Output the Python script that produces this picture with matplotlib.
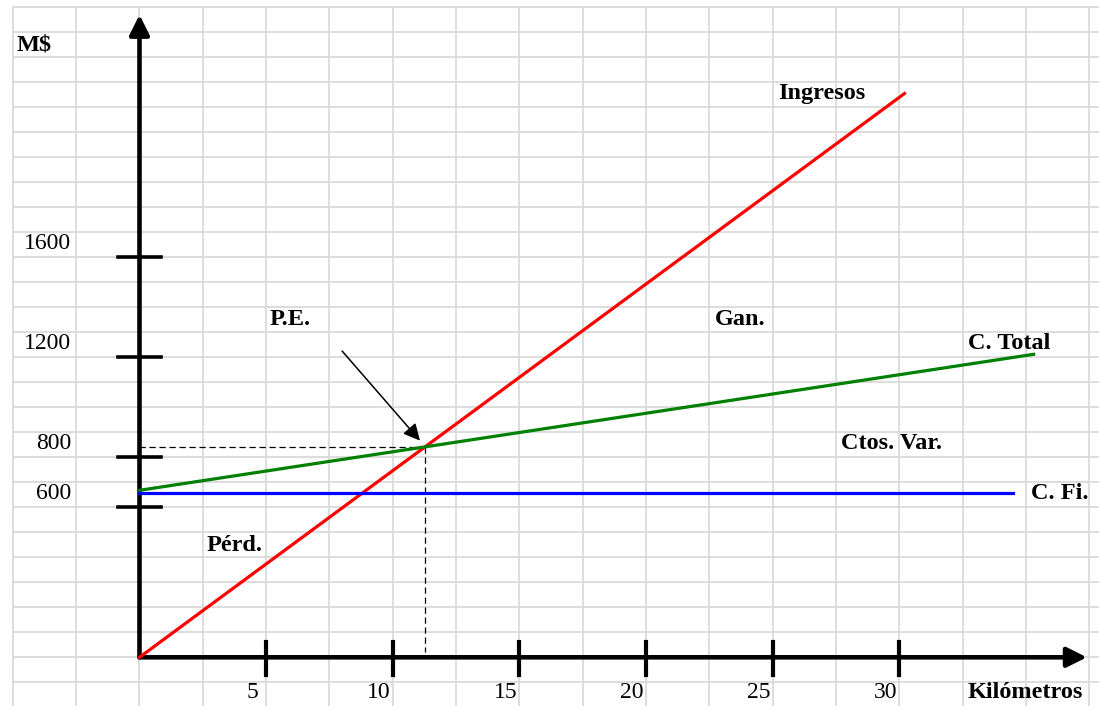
import numpy as np
import matplotlib
matplotlib.use("Agg")
from matplotlib import pyplot as plt

plt.rcParams['font.family'] = ['Liberation Serif', 'DejaVu Serif']

# data (km, M$)
ingresos_km = [0, 30.2]
ingresos_val = [0, 2255]
total_km = [0, 35.3]
total_val = [668, 1212]
fijo_km = [0, 34.5]
fijo_val = [656, 656]

y_ticks = [1600, 1200, 800, 600]
y_ticklabels = ['1600', '1200', '800', '600']
x_ticks = [5, 10, 15, 20, 25, 30]
x_ticklabels = ['5', '10', '15', '20', '25', '30']

# break-even point from the two lines
m_i = (ingresos_val[1] - ingresos_val[0]) / (ingresos_km[1] - ingresos_km[0])
m_t = (total_val[1] - total_val[0]) / (total_km[1] - total_km[0])
pe_km = (total_val[0] - ingresos_val[0]) / (m_i - m_t)
pe_val = ingresos_val[0] + m_i * pe_km

fig = plt.figure(figsize=(10.99, 7.06), dpi=100)
ax = fig.add_axes([0, 0, 1, 1])
ax.set_xlim(-5.507, 37.88)
ax.set_ylim(-194.8, 2629.2)
ax.axis('off')

# spreadsheet grid
grid_c = '#dadada'
for gx in np.arange(-5, 37.6, 2.5):
    ax.plot([gx, gx], [2600, -194.8], color=grid_c, lw=1.3, zorder=0)
for gy in np.arange(2600, -150, -100):
    ax.plot([-5, 37.88], [gy, gy], color=grid_c, lw=1.3, zorder=0)

# axes with arrows
ax.annotate('', xy=(0, 2570), xytext=(0, 0),
            arrowprops=dict(arrowstyle='-|>,head_length=0.6,head_width=0.3',
                            mutation_scale=20, lw=3.3, color='k',
                            shrinkA=0, shrinkB=0), zorder=3)
ax.annotate('', xy=(37.4, 0), xytext=(0, 0),
            arrowprops=dict(arrowstyle='-|>,head_length=0.6,head_width=0.3',
                            mutation_scale=20, lw=3.3, color='k',
                            shrinkA=0, shrinkB=0), zorder=3)

# tick marks and labels
for v, lab in zip(y_ticks, y_ticklabels):
    ax.plot([-0.85, 0.85], [v, v], color='k', lw=2.6, zorder=3)
    ax.text(-2.7, v + 57, lab, ha='right', va='center', fontsize=17)
for k, lab in zip(x_ticks, x_ticklabels):
    ax.plot([k, k], [-70, 62], color='k', lw=3.0, zorder=3)
    ax.text(k - 0.55, -140, lab, ha='center', va='center', fontsize=17)

# cost / revenue lines
ax.plot(ingresos_km, ingresos_val, color='#ff0000', lw=2.3, zorder=4)
ax.plot(total_km, total_val, color='#008000', lw=2.3, zorder=4)
ax.plot(fijo_km, fijo_val, color='#0000ff', lw=2.3, zorder=4)

# break-even guides
ax.plot([0, pe_km], [pe_val, pe_val], color='k', lw=0.9, ls=(0, (5, 3)), zorder=2)
ax.plot([pe_km, pe_km], [pe_val, 20], color='k', lw=0.9, ls=(0, (5, 3)), zorder=2)
ax.annotate('', xy=(pe_km - 0.2, pe_val + 25), xytext=(8.0, 1225),
            arrowprops=dict(arrowstyle='-|>,head_length=0.5,head_width=0.25',
                            mutation_scale=20, lw=1.1, color='k',
                            shrinkA=0, shrinkB=0), zorder=5)

# labels
bold = dict(fontsize=17.5, fontweight='bold', va='center')
ax.text(-4.84, 2449, 'M$', ha='left', **bold)
ax.text(32.7, -140, 'Kilómetros', ha='left', **bold)
ax.text(25.2, 2257, 'Ingresos', ha='left', **bold)
ax.text(22.7, 1353, 'Gan.', ha='left', **bold)
ax.text(32.7, 1257, 'C. Total', ha='left', **bold)
ax.text(27.7, 857, 'Ctos. Var.', ha='left', **bold)
ax.text(35.2, 657, 'C. Fi.', ha='left', **bold)
ax.text(5.15, 1353, 'P.E.', ha='left', **bold)
ax.text(2.65, 449, 'Pérd.', ha='left', **bold)

fig.savefig('out.png', dpi=100)
